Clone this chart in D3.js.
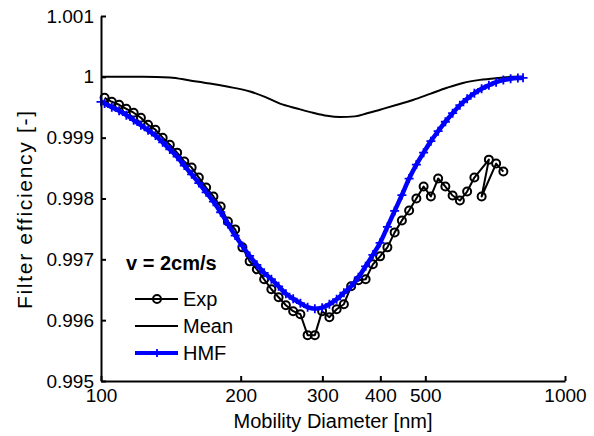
<!DOCTYPE html>
<html><head><meta charset="utf-8">
<script src="https://cdn.jsdelivr.net/npm/d3@7"></script>
<style>body{margin:0;background:#fff} text{font-family:"Liberation Sans",Arial,Helvetica,sans-serif;fill:#000}</style>
</head><body><svg id="c" width="594" height="436"></svg>
<script>
// ---- data ----
const expDiameter = [101.8,105.5,109.4,113.4,117.6,121.9,126.3,131.0,135.8,140.7,145.9,151.2,156.8,162.5,168.5,174.7,181.1,187.7,194.6,201.7,209.1,216.7,224.7,232.9,241.4,250.3,259.5,269.0,278.8,289.0,299.6,310.6,322.0,333.8,346.0,358.7,371.8,385.4,399.5,414.2,429.4,445.1,461.4,478.3,495.8,514.0,532.8,552.3,572.5,593.5,615.3,637.8,685.4,661.2,710.5,736.5];
const expEfficiency = [0.999656,0.999590,0.999541,0.999475,0.999410,0.999328,0.999213,0.999131,0.999000,0.998885,0.998754,0.998607,0.998508,0.998344,0.998180,0.998033,0.997869,0.997623,0.997492,0.997197,0.996967,0.996836,0.996672,0.996508,0.996377,0.996246,0.996148,0.996098,0.995754,0.995754,0.996148,0.996049,0.996180,0.996262,0.996557,0.996656,0.996672,0.996918,0.997049,0.997197,0.997443,0.997639,0.997803,0.998000,0.998197,0.998033,0.998328,0.998197,0.998049,0.997967,0.998115,0.998344,0.998639,0.998033,0.998574,0.998443];

const meanDiameter = [100,123.2,140.8,155.5,171.7,186.9,209.5,225.6,243.1,264.5,286.3,306.9,327.5,352.7,374.5,399.4,434.5,470.4,511.9,556.8,602.8,655.7,713.4,772.6,812];
const meanEfficiency = [1.0,1.0,0.99999,0.99994,0.99989,0.99984,0.99976,0.99967,0.99956,0.99948,0.99941,0.99936,0.99934,0.99935,0.99940,0.99946,0.99954,0.99962,0.99972,0.99982,0.99990,0.99995,0.99998,1.0,1.0];

const hmfDiameter = [100,101.8,105.5,109.4,113.4,117.6,121.9,126.3,131.0,135.8,140.7,145.9,151.2,156.8,162.5,168.5,174.7,181.1,187.7,194.6,201.7,209.1,216.7,224.7,232.9,241.4,250.3,259.5,269.0,278.8,289.0,299.6,310.6,322.0,333.8,346.0,358.7,371.8,385.4,399.5,414.2,429.4,445.1,461.4,478.3,495.8,514.0,532.8,552.3,572.5,593.5,615.3,637.8,661.2,685.4,710.5,736.5,763.5,791.5,812];
const hmfEfficiency = [0.999590,0.999561,0.999502,0.999441,0.999370,0.999287,0.999205,0.999121,0.999034,0.998923,0.998807,0.998687,0.998541,0.998397,0.998254,0.998102,0.997948,0.997774,0.997582,0.997390,0.997221,0.997056,0.996910,0.996779,0.996674,0.996557,0.996434,0.996352,0.996279,0.996213,0.996189,0.996205,0.996262,0.996344,0.996451,0.996557,0.996705,0.996885,0.997074,0.997271,0.997533,0.997795,0.998057,0.998328,0.998557,0.998754,0.998943,0.999107,0.999262,0.999402,0.999533,0.999639,0.999730,0.999803,0.999861,0.999913,0.999946,0.999967,0.999979,0.999984];

const xTicks = [100,200,300,400,500,1000];
const yTicks = [0.995,0.996,0.997,0.998,0.999,1,1.001];
const legendLabels = ["Exp","Mean","HMF"];
const annotationText = "v = 2cm/s";
const xLabel = "Mobility Diameter [nm]";
const yLabel = "Filter efficiency [-]";

// ---- layout ----
const L = 101, R = 565, T = 16, B = 381;
const svg = d3.select("#c");
svg.append("rect").attr("width",594).attr("height",436).attr("fill","#fff");

const x = d3.scaleLog().domain([100,1000]).range([L,R]);
const y = d3.scaleLinear().domain([0.995,1.001]).range([B,T]);

const zip = (a,b) => a.map((d,i)=>[d,b[i]]);
const expData = zip(expDiameter, expEfficiency);
const meanData = zip(meanDiameter, meanEfficiency);
const hmfData = zip(hmfDiameter, hmfEfficiency);

const lineLin = d3.line().x(d=>x(d[0])).y(d=>y(d[1]));
const lineSmooth = d3.line().x(d=>x(d[0])).y(d=>y(d[1])).curve(d3.curveMonotoneX);

// Exp
svg.append("path").datum(expData).attr("d",lineLin)
  .attr("fill","none").attr("stroke","#000").attr("stroke-width",2).attr("stroke-linejoin","round");
svg.append("g").selectAll("circle").data(expData).join("circle")
  .attr("cx",d=>x(d[0])).attr("cy",d=>y(d[1])).attr("r",4)
  .attr("fill","none").attr("stroke","#000").attr("stroke-width",2);

// Mean
svg.append("path").datum(meanData).attr("d",lineSmooth)
  .attr("fill","none").attr("stroke","#000").attr("stroke-width",2);

// HMF
const blue = "#0000ff";
svg.append("path").datum(hmfData).attr("d",lineSmooth)
  .attr("fill","none").attr("stroke",blue).attr("stroke-width",4.5);
const plus = (g, px, py, s) => {
  g.append("path").attr("d",`M${px-s},${py}H${px+s}M${px},${py-s}V${py+s}`)
    .attr("stroke",blue).attr("stroke-width",1.8).attr("fill","none");
};
const hg = svg.append("g");
hmfData.forEach(d => plus(hg, x(d[0]), y(d[1]), 4.5));

// ---- axes ----
const fmtY = d => d === 1 ? "1" : d3.format(".3f")(d);
const ax = svg.append("g").attr("transform",`translate(0,${B})`)
  .call(d3.axisBottom(x).tickValues(xTicks).tickFormat(d3.format("d")).tickSizeInner(-5).tickSizeOuter(0).tickPadding(8));
const ay = svg.append("g").attr("transform",`translate(${L},0)`)
  .call(d3.axisLeft(y).tickValues(yTicks).tickFormat(fmtY).tickSizeInner(-5).tickSizeOuter(0).tickPadding(7));
[ax,ay].forEach(g=>{
  g.select(".domain").attr("stroke","#000").attr("stroke-width",2);
  g.selectAll(".tick line").attr("stroke","#000").attr("stroke-width",2);
  g.selectAll(".tick text").attr("font-size",19).attr("font-family","Liberation Sans, Arial, sans-serif").attr("fill","#000");
});

svg.append("text").attr("x",(L+R)/2).attr("y",428).attr("text-anchor","middle")
  .attr("font-size",20).text(xLabel);
svg.append("text").attr("transform",`translate(32,210) rotate(-90)`).attr("text-anchor","middle")
  .attr("font-size",21).attr("textLength",198).attr("lengthAdjust","spacing").text(yLabel);

// ---- legend ----
svg.append("text").attr("x",126).attr("y",270).attr("font-size",20).attr("font-weight","bold").text(annotationText);
const legY = [299,326,353];
const lg = svg.append("g");
// Exp
lg.append("line").attr("x1",135).attr("x2",178).attr("y1",legY[0]).attr("y2",legY[0]).attr("stroke","#000").attr("stroke-width",2);
lg.append("circle").attr("cx",157).attr("cy",legY[0]).attr("r",4).attr("fill","none").attr("stroke","#000").attr("stroke-width",2);
// Mean
lg.append("line").attr("x1",135).attr("x2",178).attr("y1",legY[1]).attr("y2",legY[1]).attr("stroke","#000").attr("stroke-width",2);
// HMF
lg.append("line").attr("x1",135).attr("x2",178).attr("y1",legY[2]).attr("y2",legY[2]).attr("stroke",blue).attr("stroke-width",4);
plus(lg,157,legY[2],4);
legendLabels.forEach((t,i)=>{
  lg.append("text").attr("x",183).attr("y",legY[i]+7).attr("font-size",20).text(t);
});
</script></body></html>
